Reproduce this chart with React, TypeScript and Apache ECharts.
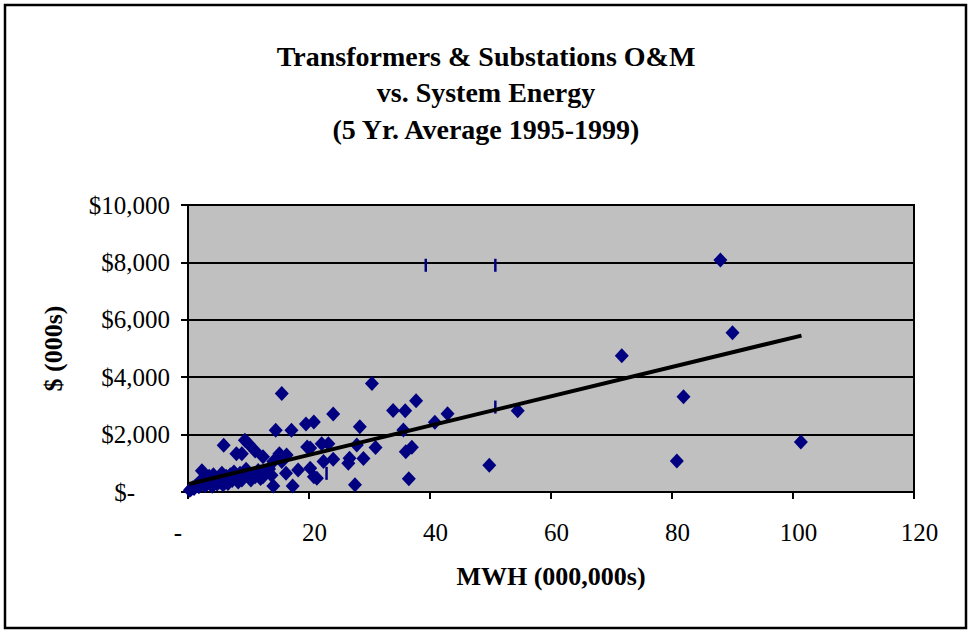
import React, { useEffect, useRef } from "react";
import * as echarts from "echarts";

const titleLines = ["Transformers & Substations O&M", "vs. System Energy", "(5 Yr. Average 1995-1999)"];
const xAxisName = "MWH (000,000s)";
const yAxisName = "$ (000s)";

// MWH (000,000s)
const mwh = [
  88.0, 90.0, 71.7, 81.9, 80.8, 101.3,
  54.5, 49.8, 42.9, 40.8, 37.7, 35.9, 33.9, 35.6, 37.0, 36.0, 36.5,
  30.4, 31.0, 29.0, 28.4, 27.9, 27.6, 26.5, 26.7, 24.0, 24.0, 23.2, 22.1, 22.4, 21.3,
  20.8, 20.2, 20.2, 19.5, 19.7, 18.2, 17.1, 17.3, 16.3, 16.2, 15.5, 15.1, 15.5, 14.5,
  14.1, 14.1, 12.4, 12.4, 11.1, 11.1, 9.4, 10.0, 8.9, 9.6, 8.9, 8.0, 5.9, 2.3, 4.2, 20.8,
  0.3, 0.5, 0.8, 1.0, 1.2, 1.5, 1.8, 2.0, 2.2, 2.5, 2.8, 3.0, 3.2, 3.5, 3.8, 4.0, 4.5,
  4.8, 5.0, 5.3, 5.6, 5.8, 6.0, 6.3, 6.6, 7.0, 7.3, 7.6, 8.0, 8.3, 8.6, 9.0, 9.5, 10.0,
  10.4, 11.0, 11.6, 12.0, 12.8, 13.4, 13.8,
];
// O&M $ (000s)
const om = [
  8080, 5550, 4750, 3320, 1080, 1740,
  2830, 930, 2730, 2430, 3180, 2830, 2840, 2160, 1560, 1400, 460,
  3780, 1550, 1170, 2270, 1640, 250, 1000, 1180, 2720, 1140, 1680, 1680, 1060, 480,
  2440, 1530, 830, 2370, 1570, 770, 2150, 210, 1290, 650, 3430, 1330, 1060, 2150,
  1060, 210, 1230, 535, 1430, 535, 1800, 1680, 1330, 790, 420, 1330, 1630, 740, 600, 535,
  60, 100, 150, 120, 200, 250, 180, 300, 420, 350, 220, 480, 300, 550, 380, 200, 420,
  280, 500, 350, 650, 250, 450, 550, 300, 600, 400, 700, 500, 350, 650, 480, 720, 560,
  420, 620, 750, 470, 680, 800, 580,
];

// small vertical-bar markers
const barX = [39.3, 50.8, 50.8, 22.9];
const barY = [7900, 7900, 2960, 650];

// linear trendline end points
const trendX = [0.2, 101.4];
const trendY = [280, 5450];

const yTicks = { min: 0, max: 10000, interval: 2000 };
const xTicks = { min: 0, max: 120, interval: 20 };

const serif = "'Liberation Serif', 'Times New Roman', serif";

export default function App() {
  const ref = useRef<HTMLDivElement>(null);
  useEffect(() => {
    if (!ref.current) return;
    const chart = echarts.init(ref.current, null, { renderer: "svg" });
    const pts = mwh.map((x, i) => [x, om[i]]);
    const bars = barX.map((x, i) => [x, barY[i]]);
    const trend = trendX.map((x, i) => [x, trendY[i]]);
    const tickFont = { fontFamily: serif, fontSize: 25, color: "#000" };
    chart.setOption({
      animation: false,
      backgroundColor: "#ffffff",
      title: {
        text: titleLines.join("\n"),
        left: "center",
        top: 33,
        textStyle: {
          fontFamily: serif,
          fontWeight: "bold",
          fontSize: 28,
          lineHeight: 36.5,
          color: "#000",
        },
      },
      graphic: [
        {
          type: "rect",
          shape: { x: 5, y: 5, width: 961, height: 623 },
          style: { fill: "none", stroke: "#000", lineWidth: 2.5 },
          silent: true,
        },
      ],
      grid: {
        left: 188,
        top: 205,
        right: 58,
        bottom: 141,
        show: true,
        backgroundColor: "#C0C0C0",
        borderColor: "#000",
        borderWidth: 2,
      },
      xAxis: {
        type: "value",
        min: xTicks.min,
        max: xTicks.max,
        interval: xTicks.interval,
        name: xAxisName,
        nameLocation: "middle",
        nameGap: 71,
        nameTextStyle: { fontFamily: serif, fontWeight: "bold", fontSize: 26, color: "#000" },
        axisLine: { show: true, lineStyle: { color: "#000", width: 2 } },
        axisTick: { show: true, inside: false, length: 7, lineStyle: { color: "#000", width: 2 } },
        splitLine: { show: false },
        axisLabel: {
          margin: 28,
          ...tickFont,
          formatter: (v: number) => (v === 0 ? "{z|-}" : "{n|" + v + "}"),
          rich: {
            z: { ...tickFont, padding: [0, 20, 0, 0] },
            n: { ...tickFont, padding: [0, 0, 0, 11] },
          },
        },
      },
      yAxis: {
        type: "value",
        min: yTicks.min,
        max: yTicks.max,
        interval: yTicks.interval,
        name: yAxisName,
        nameLocation: "middle",
        nameGap: 122,
        nameRotate: 90,
        nameTextStyle: { fontFamily: serif, fontWeight: "bold", fontSize: 26, color: "#000" },
        axisLine: { show: true, lineStyle: { color: "#000", width: 2 } },
        axisTick: { show: true, inside: false, length: 7, lineStyle: { color: "#000", width: 2 } },
        splitLine: { show: true, lineStyle: { color: "#000", width: 2 } },
        axisLabel: {
          margin: 18,
          ...tickFont,
          formatter: (v: number) =>
            v === 0 ? "{z|$-}" : "{n|$" + v.toLocaleString("en-US") + "}",
          rich: {
            z: { ...tickFont, padding: [0, 35, 0, 0] },
            n: { ...tickFont },
          },
        },
      },
      series: [
        {
          type: "scatter",
          data: pts,
          symbol: "diamond",
          symbolSize: [14, 15],
          itemStyle: { color: "#000080", opacity: 1 },
          z: 3,
        },
        {
          type: "scatter",
          data: bars,
          symbol: "rect",
          symbolSize: [2.5, 13],
          itemStyle: { color: "#000080", opacity: 1 },
          z: 3,
        },
        {
          type: "line",
          data: trend,
          showSymbol: false,
          symbol: "none",
          lineStyle: { color: "#000", width: 4 },
          z: 4,
        },
      ],
    });
    return () => chart.dispose();
  }, []);
  return (
    <div
      ref={ref}
      style={{ position: "absolute", left: 0, top: 0, width: 972, height: 633 }}
    />
  );
}
